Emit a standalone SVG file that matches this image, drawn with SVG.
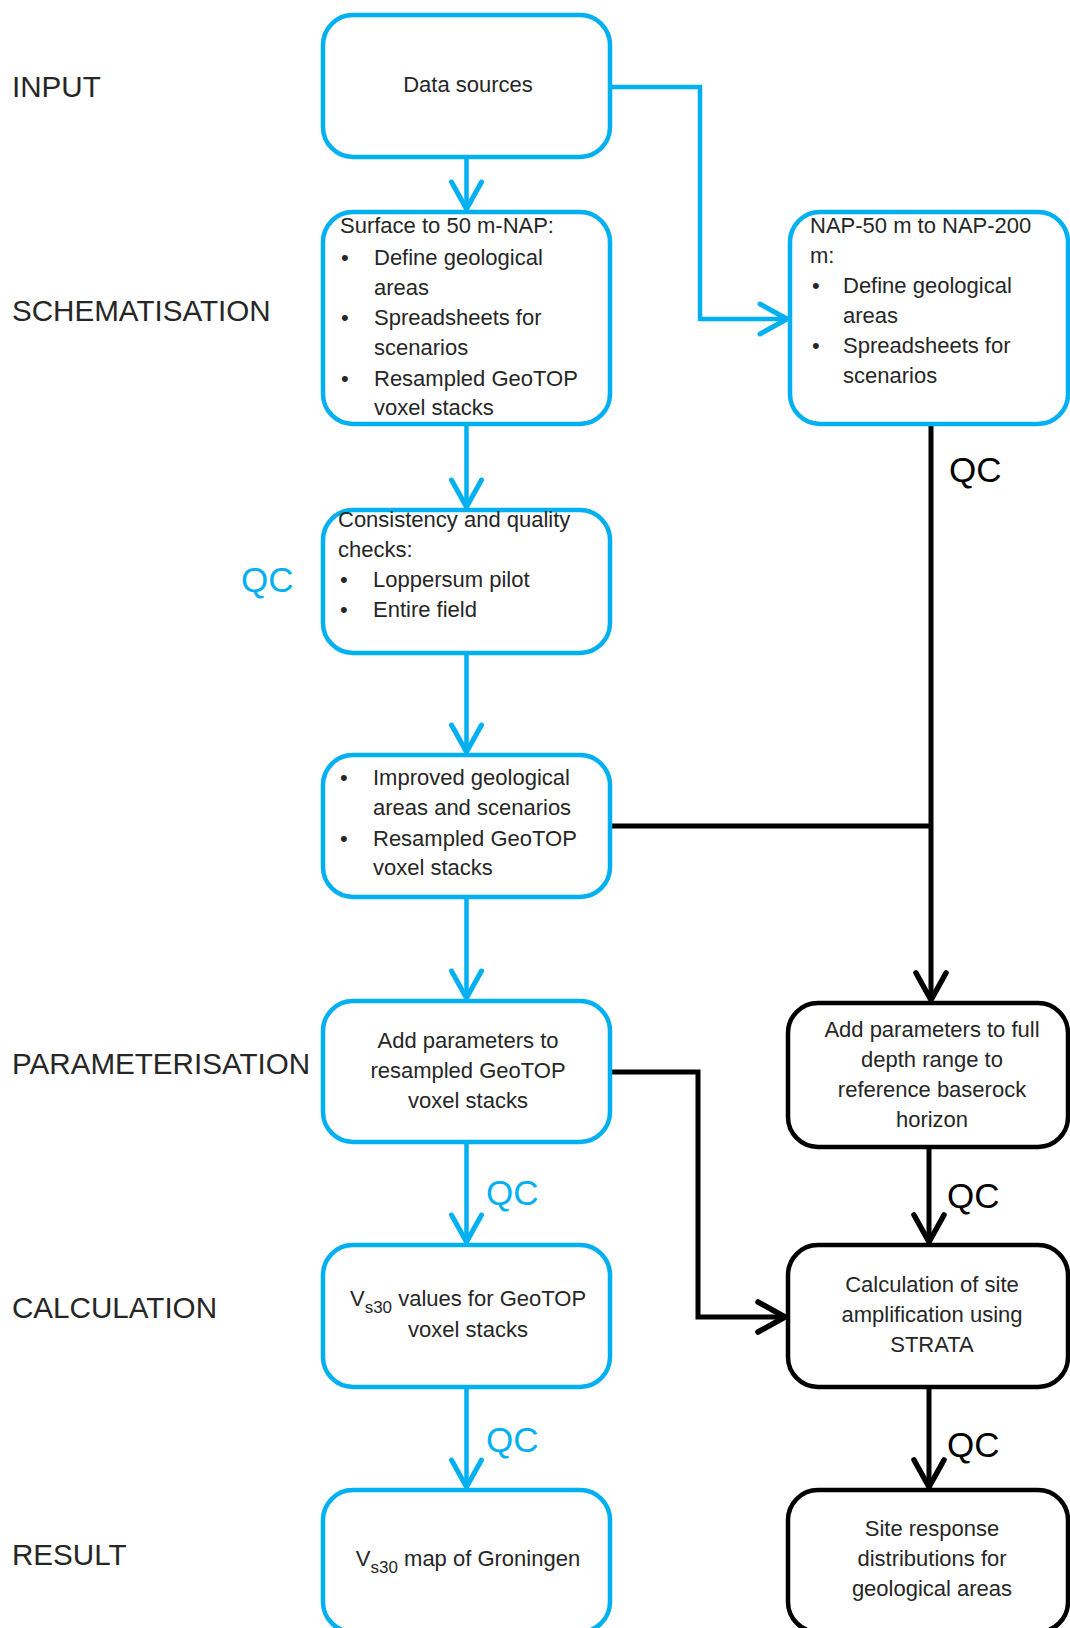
<svg xmlns="http://www.w3.org/2000/svg" width="1070" height="1628" viewBox="0 0 1070 1628">
<style>
  .bb { fill: #ffffff; stroke: #00B0F0; stroke-width: 4.5; }
  .kb { fill: #ffffff; stroke: #000000; stroke-width: 4.5; }
  .t { font-family: "Liberation Sans", Arial, sans-serif; font-size: 22px; fill: #262626; }
  .c { text-anchor: middle; }
  .lab { font-family: "Liberation Sans", Arial, sans-serif; font-size: 29.6px; fill: #262626; }
  .qcb { font-family: "Liberation Sans", Arial, sans-serif; font-size: 35px; fill: #00B0F0; }
  .qck { font-family: "Liberation Sans", Arial, sans-serif; font-size: 35px; fill: #000000; }
  .lb { fill: none; stroke: #00B0F0; stroke-width: 4.5; stroke-linejoin: miter; }
  .lk { fill: none; stroke: #000000; stroke-width: 5; stroke-linejoin: miter; }
  .sub { font-size: 17px; }
</style>
<defs>
  <marker id="ab" markerUnits="userSpaceOnUse" viewBox="-34 -20 40 40" markerWidth="40" markerHeight="40" refX="0" refY="0" orient="auto" overflow="visible">
    <path d="M -27 -15 L 0 0 L -27 15" fill="none" stroke="#00B0F0" stroke-width="5" stroke-linejoin="round" stroke-linecap="round"/>
  </marker>
  <marker id="ak" markerUnits="userSpaceOnUse" viewBox="-34 -20 40 40" markerWidth="40" markerHeight="40" refX="0" refY="0" orient="auto" overflow="visible">
    <path d="M -27 -15 L 0 0 L -27 15" fill="none" stroke="#000000" stroke-width="5.5" stroke-linejoin="round" stroke-linecap="round"/>
  </marker>
</defs>
<rect x="0" y="0" width="1070" height="1628" fill="#ffffff"/>

<g id="stage-labels">
  <text class="lab" x="12" y="97">INPUT</text>
  <text class="lab" x="12" y="321">SCHEMATISATION</text>
  <text class="qcb" x="241" y="592">QC</text>
  <text class="lab" x="12" y="1074">PARAMETERISATION</text>
  <text class="lab" x="12" y="1318">CALCULATION</text>
  <text class="lab" x="12" y="1565">RESULT</text>
</g>

<g id="connectors">
  <path class="lb" d="M 466.5 157 L 466.5 209" marker-end="url(#ab)"/>
  <path class="lb" d="M 610 87 L 700 87 L 700 319 L 787 319" marker-end="url(#ab)"/>
  <path class="lb" d="M 466.5 424 L 466.5 507" marker-end="url(#ab)"/>
  <path class="lb" d="M 466.5 653 L 466.5 752" marker-end="url(#ab)"/>
  <path class="lb" d="M 466.5 897 L 466.5 998" marker-end="url(#ab)"/>
  <path class="lb" d="M 466.5 1142 L 466.5 1242" marker-end="url(#ab)"/>
  <path class="lb" d="M 466.5 1387 L 466.5 1487" marker-end="url(#ab)"/>
  <path class="lk" d="M 931 424 L 931 1000" marker-end="url(#ak)"/>
  <path class="lk" d="M 610 826 L 931 826"/>
  <path class="lk" d="M 610 1072 L 698 1072 L 698 1317 L 785 1317" marker-end="url(#ak)"/>
  <path class="lk" d="M 929 1147 L 929 1242" marker-end="url(#ak)"/>
  <path class="lk" d="M 929 1387 L 929 1487" marker-end="url(#ak)"/>
  <text class="qck" x="949" y="482">QC</text>
  <text class="qcb" x="486" y="1205">QC</text>
  <text class="qck" x="947" y="1208">QC</text>
  <text class="qcb" x="486" y="1452">QC</text>
  <text class="qck" x="947" y="1457">QC</text>
</g>

<g id="node-data-sources">
  <rect class="bb" x="323" y="15" width="287" height="142" rx="30" ry="30"/>
  <text class="t c" x="468" y="92">Data sources</text>
</g>

<g id="node-surface">
  <rect class="bb" x="323" y="212" width="287" height="212" rx="30" ry="30"/>
  <text class="t" x="340" y="233">Surface to 50 m-NAP:</text>
  <text class="t" x="341" y="265">•</text>
  <text class="t" x="374" y="265">Define geological</text>
  <text class="t" x="374" y="295">areas</text>
  <text class="t" x="341" y="325">•</text>
  <text class="t" x="374" y="325">Spreadsheets for</text>
  <text class="t" x="374" y="355">scenarios</text>
  <text class="t" x="341" y="386">•</text>
  <text class="t" x="374" y="386">Resampled GeoTOP</text>
  <text class="t" x="374" y="415">voxel stacks</text>
</g>

<g id="node-nap">
  <rect class="bb" x="790" y="212" width="278" height="212" rx="30" ry="30"/>
  <text class="t" x="810" y="233">NAP-50 m to NAP-200</text>
  <text class="t" x="810" y="263">m:</text>
  <text class="t" x="812" y="293">•</text>
  <text class="t" x="843" y="293">Define geological</text>
  <text class="t" x="843" y="323">areas</text>
  <text class="t" x="812" y="353">•</text>
  <text class="t" x="843" y="353">Spreadsheets for</text>
  <text class="t" x="843" y="383">scenarios</text>
</g>

<g id="node-consistency">
  <rect class="bb" x="323" y="510" width="287" height="143" rx="30" ry="30"/>
  <text class="t" x="338" y="527">Consistency and quality</text>
  <text class="t" x="338" y="557">checks:</text>
  <text class="t" x="340" y="587">•</text>
  <text class="t" x="373" y="587">Loppersum pilot</text>
  <text class="t" x="340" y="617">•</text>
  <text class="t" x="373" y="617">Entire field</text>
</g>

<g id="node-improved">
  <rect class="bb" x="323" y="755" width="287" height="142" rx="30" ry="30"/>
  <text class="t" x="340" y="785">•</text>
  <text class="t" x="373" y="785">Improved geological</text>
  <text class="t" x="373" y="815">areas and scenarios</text>
  <text class="t" x="340" y="846">•</text>
  <text class="t" x="373" y="846">Resampled GeoTOP</text>
  <text class="t" x="373" y="875">voxel stacks</text>
</g>

<g id="node-add-parameters">
  <rect class="bb" x="323" y="1001" width="287" height="141" rx="30" ry="30"/>
  <text class="t c" x="468" y="1048">Add parameters to</text>
  <text class="t c" x="468" y="1078">resampled GeoTOP</text>
  <text class="t c" x="468" y="1108">voxel stacks</text>
</g>

<g id="node-add-parameters-full">
  <rect class="kb" x="788" y="1003" width="280" height="144" rx="30" ry="30"/>
  <text class="t c" x="932" y="1037">Add parameters to full</text>
  <text class="t c" x="932" y="1067">depth range to</text>
  <text class="t c" x="932" y="1097">reference baserock</text>
  <text class="t c" x="932" y="1127">horizon</text>
</g>

<g id="node-vs30-values">
  <rect class="bb" x="323" y="1245" width="287" height="142" rx="30" ry="30"/>
  <text class="t c" x="468" y="1306">V<tspan class="sub" dy="7">s30</tspan><tspan dy="-7"> values for GeoTOP</tspan></text>
  <text class="t c" x="468" y="1337">voxel stacks</text>
</g>

<g id="node-calculation">
  <rect class="kb" x="788" y="1245" width="280" height="142" rx="30" ry="30"/>
  <text class="t c" x="932" y="1292">Calculation of site</text>
  <text class="t c" x="932" y="1322">amplification using</text>
  <text class="t c" x="932" y="1352">STRATA</text>
</g>

<g id="node-vs30-map">
  <rect class="bb" x="323" y="1490" width="287" height="142" rx="30" ry="30"/>
  <text class="t c" x="468" y="1566">V<tspan class="sub" dy="7">s30</tspan><tspan dy="-7"> map of Groningen</tspan></text>
</g>

<g id="node-site-response">
  <rect class="kb" x="788" y="1490" width="280" height="142" rx="30" ry="30"/>
  <text class="t c" x="932" y="1536">Site response</text>
  <text class="t c" x="932" y="1566">distributions for</text>
  <text class="t c" x="932" y="1596">geological areas</text>
</g>
</svg>
